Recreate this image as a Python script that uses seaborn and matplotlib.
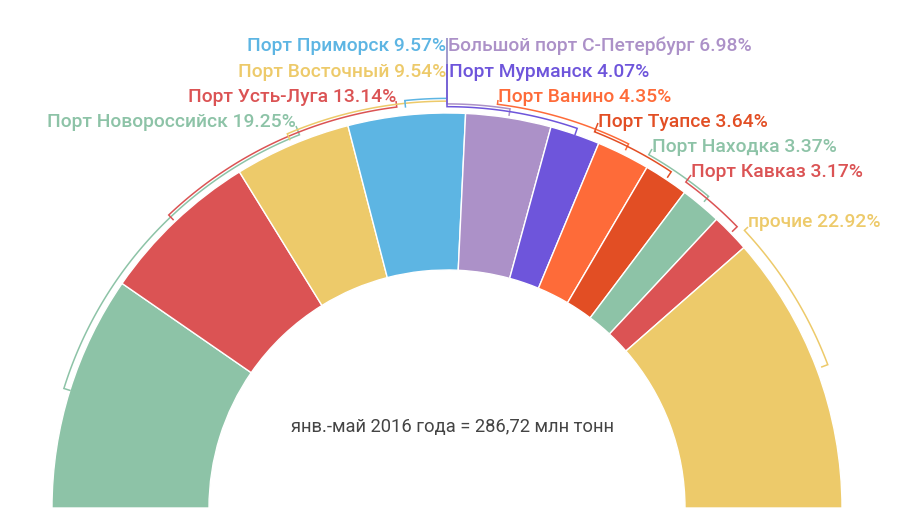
import numpy as np
import matplotlib
matplotlib.use("Agg")
import matplotlib.pyplot as plt
import seaborn as sns

# ---- data ----
ports = ["Порт Новороссийск", "Порт Усть-Луга", "Порт Восточный", "Порт Приморск",
         "Большой порт С-Петербург", "Порт Мурманск", "Порт Ванино", "Порт Туапсе",
         "Порт Находка", "Порт Кавказ", "прочие"]
shares = [19.25, 13.14, 9.54, 9.57, 6.98, 4.07, 4.35, 3.64, 3.37, 3.17, 22.92]
total_label = "янв.-май 2016 года = 286,72 млн тонн"

colors = ["#8DC3A7", "#DB5354", "#EDCA6A", "#5DB5E3", "#AC91C8", "#6E55DB",
          "#FE6B39", "#E24E24", "#8DC3A7", "#DB5354", "#EDCA6A"]

# ---- layout (pixel positions of labels: x edge, y center, alignment, connector anchor y, bracket radius) ----
CX, CY, R = 447.0, 508.0, 395.0
layout = [
    (296, 122, "right", 126, 1.016),
    (396, 97, "right", 101, 1.023),
    (446, 72, "right", 64, 1.030),
    (446, 46, "right", 38, 1.037),
    (448, 46, "left", 38, 1.023),
    (449, 72, "left", 64, 1.016),
    (498, 97, "left", 100, 1.030),
    (598, 122, "left", 123, 1.023),
    (652, 147, "left", 149, 1.030),
    (691, 172, "left", 175, 1.023),
    (748, 222, "left", 227, 1.030),
]

def px(x, y):
    return (x - CX) / R, (CY - y) / R

sns.set_theme(style="white")
plt.rcParams["font.family"] = ["Roboto", "DejaVu Sans"]

fig = plt.figure(figsize=(9.19, 5.19), dpi=100)
ax = fig.add_axes([0, 0, 1, 1])

vals = shares + [sum(shares)]
wedges, _ = ax.pie(vals, radius=1.0, startangle=180, counterclock=False,
                   colors=colors + ["white"],
                   wedgeprops=dict(width=1 - 238 / 395, edgecolor="white", linewidth=1.0))
wedges[-1].set_visible(False)

# brackets and labels
cum = np.cumsum([0] + shares)
tot = sum(shares)
for i, (name, val) in enumerate(zip(ports, shares)):
    a0 = 180 - cum[i] / tot * 180
    a1 = 180 - cum[i + 1] / tot * 180
    am = np.radians((a0 + a1) / 2)
    tx, ty, ha, ay, rb = layout[i]
    ax_, ay_ = px(tx, ay)
    if abs(tx - CX) < 3:
        ax_ = 0.0
    ae = np.arctan2(ay_, ax_)
    th = np.linspace(am, ae, 100)
    xs = list(rb * np.cos(th))
    ys = list(rb * np.sin(th))
    xs = [(rb - 0.018) * np.cos(am)] + xs + [ax_]
    ys = [(rb - 0.018) * np.sin(am)] + ys + [ay_]
    ax.plot(xs, ys, color=colors[i], lw=1.1, solid_capstyle="butt", solid_joinstyle="miter")
    lx, ly = px(tx, ty)
    ax.text(lx, ly, f"{name} {val:.2f}%", color=colors[i], ha=ha, va="center",
            fontsize=13.9, fontweight=500)

cx, cy = px(452, 427)
ax.text(cx, cy, total_label, ha="center", va="center", fontsize=13.2, color="#444444")

ax.set_xlim(-CX / R, (919 - CX) / R)
ax.set_ylim((CY - 519) / R, CY / R)
ax.set_aspect("auto")
ax.axis("off")
fig.savefig("out.png", dpi=100)
